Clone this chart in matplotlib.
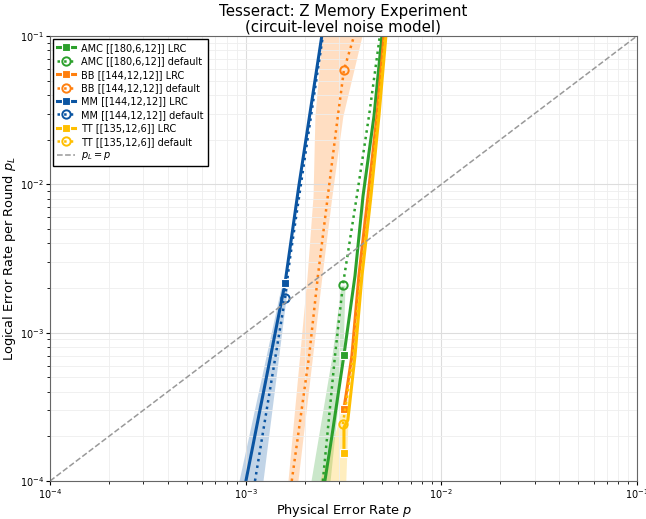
import numpy as np
import matplotlib
matplotlib.use("Agg")
import matplotlib.pyplot as plt

amc_lrc_p = [2.54e-3, 2.76e-3, 3.18e-3, 3.62e-3, 3.98e-3, 4.53e-3, 4.97e-3]
amc_lrc_pl = [1.0e-4, 2.01e-4, 7.06e-4, 2.41e-3, 8.34e-3, 2.89e-2, 1.0e-1]
amc_lrc_mark = 2

amc_def_p = [2.48e-3, 2.66e-3, 2.86e-3, 3.14e-3, 3.70e-3, 4.27e-3, 4.85e-3]
amc_def_pl = [1.0e-4, 2.58e-4, 6.95e-4, 2.09e-3, 8.34e-3, 2.89e-2, 1.0e-1]
amc_def_mark = 3

bb_lrc_p = [3.18e-3, 3.49e-3, 3.79e-3, 4.22e-3, 4.69e-3, 5.09e-3]
bb_lrc_pl = [3.05e-4, 6.95e-4, 2.41e-3, 8.34e-3, 2.89e-2, 1.0e-1]
bb_lrc_mark = 0

bb_def_p = [1.72e-3, 2.11e-3, 2.34e-3, 2.63e-3, 2.96e-3, 3.18e-3, 3.58e-3]
bb_def_pl = [1.0e-4, 6.95e-4, 2.41e-3, 8.34e-3, 2.89e-2, 5.90e-2, 1.0e-1]
bb_def_mark = 5

mm_lrc_p = [1.003e-3, 1.59e-3, 1.87e-3, 2.45e-3]
mm_lrc_pl = [1.0e-4, 2.16e-3, 9.75e-3, 1.0e-1]
mm_lrc_mark = 1

mm_def_p = [1.116e-3, 1.59e-3, 1.68e-3, 2.48e-3]
mm_def_pl = [1.0e-4, 1.71e-3, 3.09e-3, 1.0e-1]
mm_def_mark = 1

tt_lrc_p = [3.18e-3, 3.18e-3, 3.33e-3, 3.62e-3, 3.93e-3, 4.37e-3, 4.80e-3, 5.21e-3]
tt_lrc_pl = [1.54e-4, 2.3e-4, 2.58e-4, 6.95e-4, 2.41e-3, 8.34e-3, 2.89e-2, 1.0e-1]
tt_lrc_mark = 0

tt_def_p = [3.14e-3, 3.54e-3, 3.88e-3, 4.32e-3, 4.74e-3, 5.15e-3]
tt_def_pl = [2.42e-4, 6.95e-4, 2.41e-3, 8.34e-3, 2.89e-2, 1.0e-1]
tt_def_mark = 0

# shaded uncertainty bands: p_L levels with low / high p
amc_band_pl = [1.0e-4, 6.95e-4, 2.09e-3]
amc_band_lo = [2.157e-3, 2.76e-3, 3.07e-3]
amc_band_hi = [2.70e-3, 3.14e-3, 3.22e-3]

bb_band_pl = [1.0e-4, 2.41e-3, 8.34e-3, 2.89e-2, 1.0e-1]
bb_band_lo = [1.645e-3, 2.06e-3, 2.21e-3, 2.26e-3, 2.455e-3]
bb_band_hi = [1.85e-3, 2.455e-3, 2.76e-3, 3.14e-3, 3.93e-3]

mm_band_pl = [1.0e-4, 2.16e-3]
mm_band_lo = [9.24e-4, 1.533e-3]
mm_band_hi = [1.226e-3, 1.645e-3]

tt_band_pl = [1.0e-4, 2.42e-4, 3.8e-4]
tt_band_lo = [2.39e-3, 2.96e-3, 3.18e-3]
tt_band_hi = [3.25e-3, 3.33e-3, 3.37e-3]

colors = {"AMC": "#2ca02c", "BB": "#ff7f0e", "MM": "#0b55a2", "TT": "#ffbf00"}

series = [
    ("AMC [[180,6,12]]", "AMC", amc_lrc_p, amc_lrc_pl, amc_lrc_mark, amc_def_p, amc_def_pl, amc_def_mark,
     amc_band_pl, amc_band_lo, amc_band_hi),
    ("BB [[144,12,12]]", "BB", bb_lrc_p, bb_lrc_pl, bb_lrc_mark, bb_def_p, bb_def_pl, bb_def_mark,
     bb_band_pl, bb_band_lo, bb_band_hi),
    ("MM [[144,12,12]]", "MM", mm_lrc_p, mm_lrc_pl, mm_lrc_mark, mm_def_p, mm_def_pl, mm_def_mark,
     mm_band_pl, mm_band_lo, mm_band_hi),
    ("TT [[135,12,6]]", "TT", tt_lrc_p, tt_lrc_pl, tt_lrc_mark, tt_def_p, tt_def_pl, tt_def_mark,
     tt_band_pl, tt_band_lo, tt_band_hi),
]

fig = plt.figure(figsize=(6.46, 5.19), dpi=100)
ax = fig.add_axes([0.0774, 0.0732, 0.9086, 0.8574])

for name, key, lp, lpl, lm, dp, dpl, dm, bpl, blo, bhi in series:
    c = colors[key]
    ax.fill_betweenx(bpl, blo, bhi, color=c, alpha=0.25, lw=0)
    ax.plot(lp, lpl, "-s", color=c, lw=2.2, ms=6, mec="white", mew=0.8,
            markevery=[lm], label=name + " LRC")
    ax.plot(dp, dpl, ":o", color=c, lw=1.8, ms=6, mfc="none", mew=1.4,
            markevery=[dm], label=name + " default")

diag = np.array([1e-4, 1e-1])
ax.plot(diag, diag, "--", color="#999999", lw=1.1, label=r"$p_L = p$")

ax.set_xscale("log")
ax.set_yscale("log")
ax.set_xlim(1e-4, 1e-1)
ax.set_ylim(1e-4, 1e-1)
ax.grid(True, which="major", color="#dddddd", lw=0.8)
ax.grid(True, which="minor", color="#eeeeee", lw=0.6)
ax.tick_params(labelsize=7, pad=1.5, length=3)
ax.tick_params(which="minor", length=2)
for s in ax.spines.values():
    s.set_color("#666666")

ax.set_xlabel("Physical Error Rate $p$", fontsize=9.3, labelpad=1)
ax.set_ylabel("Logical Error Rate per Round $p_L$", fontsize=9.3, labelpad=1)
ax.set_title("Tesseract: Z Memory Experiment\n(circuit-level noise model)", fontsize=10.8,
             pad=3, linespacing=1.05)

leg = ax.legend(loc="upper left", fontsize=7, labelspacing=0.35, handlelength=1.9,
                handletextpad=0.6, borderaxespad=0.3, fancybox=False, framealpha=1)
leg.get_frame().set_edgecolor("black")

fig.savefig("out.png", dpi=100)
